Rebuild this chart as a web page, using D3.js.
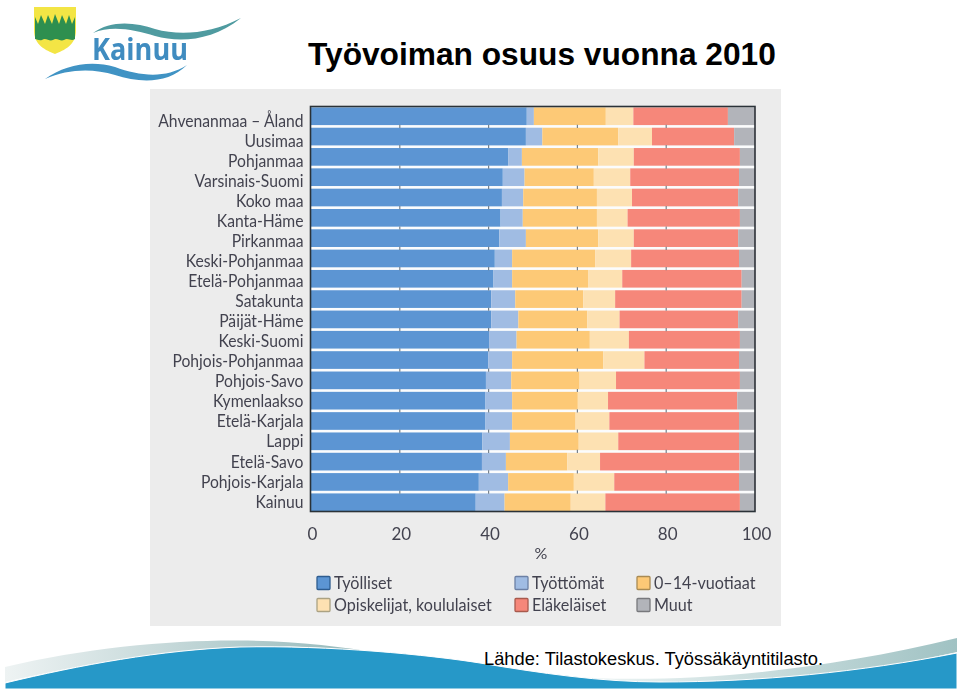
<!DOCTYPE html>
<html lang="fi">
<head>
<meta charset="utf-8">
<title>Työvoiman osuus vuonna 2010</title>
<script src="https://cdn.jsdelivr.net/npm/d3@7"></script>
<style>
  html, body { margin: 0; padding: 0; background: #fff; }
  svg { display: block; }
  .panelText { font-family: Lato, "Open Sans", sans-serif; fill: #43434f; }
</style>
</head>
<body>
<div id="chart"></div>
<script>
const alueet = ['Ahvenanmaa – Åland', 'Uusimaa', 'Pohjanmaa', 'Varsinais-Suomi', 'Koko maa', 'Kanta-Häme', 'Pirkanmaa',
  'Keski-Pohjanmaa', 'Etelä-Pohjanmaa', 'Satakunta', 'Päijät-Häme', 'Keski-Suomi', 'Pohjois-Pohjanmaa', 'Pohjois-Savo',
  'Kymenlaakso', 'Etelä-Karjala', 'Lappi', 'Etelä-Savo', 'Pohjois-Karjala', 'Kainuu'];

const tyolliset = [48.6, 48.4, 44.4, 43.2, 43.0, 42.7, 42.4, 41.4, 41.1, 40.6, 40.6, 40.1, 39.9, 39.4, 39.3, 39.3, 38.6, 38.5, 37.8, 37.1];
const tyottomat = [1.6, 3.7, 3.1, 4.9, 4.8, 5.0, 6.0, 3.9, 4.2, 5.4, 6.1, 6.2, 5.4, 5.7, 6.0, 6.0, 6.2, 5.4, 6.6, 6.5];
const lapset = [16.2, 17.1, 17.2, 15.6, 16.6, 16.7, 16.3, 18.7, 17.1, 15.3, 15.5, 16.5, 20.5, 15.4, 14.8, 14.3, 15.5, 13.8, 14.8, 14.9];
const opiskelijat = [6.2, 7.6, 8.0, 8.2, 7.9, 6.9, 8.0, 8.1, 7.7, 7.2, 7.3, 8.8, 9.3, 8.2, 6.8, 7.6, 8.9, 7.4, 9.1, 7.8];
const elakelaiset = [21.3, 18.5, 23.9, 24.5, 23.9, 25.3, 23.5, 24.3, 26.9, 28.5, 26.7, 25.0, 21.3, 27.9, 29.1, 29.2, 27.2, 31.4, 28.1, 30.3];
const muut = [6.1, 4.7, 3.4, 3.6, 3.8, 3.4, 3.8, 3.6, 3.0, 3.0, 3.8, 3.4, 3.6, 3.4, 4.0, 3.6, 3.6, 3.5, 3.6, 3.4];

const sarjat = [tyolliset, tyottomat, lapset, opiskelijat, elakelaiset, muut];
const sarjaNimet = ['Työlliset', 'Työttömät', '0–14-vuotiaat', 'Opiskelijat, koululaiset', 'Eläkeläiset', 'Muut'];
const varit = ['#5b95d3', '#a0bce3', '#fdc976', '#fde1b2', '#f6877a', '#b2b4ba'];
const reunat = ['#2d5c8f', '#6c80a5', '#a98a52', '#aba283', '#a85a4e', '#77787c'];
const tikit = [0, 20, 40, 60, 80, 100];

let w = 960;
let h = 691;

const svg = d3.select('#chart').append('svg')
  .attr('width', w)
  .attr('height', h);

const defs = svg.append('defs');
defs.append('filter').attr('id', 'pehmea')
  .attr('x', 0).attr('y', 0).attr('width', 1).attr('height', 1)
  .append('feGaussianBlur').attr('stdDeviation', 0.45);

const gv1 = defs.append('linearGradient').attr('id', 'aaltoV');
gv1.append('stop').attr('offset', 0).attr('stop-color', '#eef3f3');
gv1.append('stop').attr('offset', 1).attr('stop-color', '#8fb5b7');
const gv2 = defs.append('linearGradient').attr('id', 'aaltoO');
gv2.append('stop').attr('offset', 0).attr('stop-color', '#f4f9f9');
gv2.append('stop').attr('offset', 1).attr('stop-color', '#a0c2c3');

// otsikko
svg.append('text')
  .attr('x', 308).attr('y', 65)
  .attr('font-family', '"Liberation Sans", Arial, sans-serif')
  .attr('font-weight', 'bold')
  .attr('font-size', 31.7)
  .attr('fill', '#000')
  .text('Työvoiman osuus vuonna 2010');

// harmaa kuvapaneeli
const panel = svg.append('g').attr('filter', 'url(#pehmea)');
panel.append('rect')
  .attr('x', 150).attr('y', 89)
  .attr('width', 631).attr('height', 537)
  .attr('fill', '#ececec');

const plotL = 311, plotR = 755, plotT = 107, plotB = 511.5;

const x = d3.scaleLinear().domain([0, 100]).range([plotL, plotR]);
const y = d3.scaleBand().domain(alueet).range([plotT, plotB]).paddingInner(0.13).paddingOuter(0.02);
// nimet eivät ole aivan rivien kohdalla alkuperäisessä kuvassa
const yNimi = d3.scalePoint().domain(alueet).range([120.7, 501.7]);

// kaventaa tekstin alkuperäisen levyiseksi
function kavenna(sel, k) {
  sel.each(function () {
    const pit = this.getComputedTextLength();
    d3.select(this).attr('textLength', pit * k).attr('lengthAdjust', 'spacingAndGlyphs');
  });
}

panel.append('rect')
  .attr('x', plotL).attr('y', plotT)
  .attr('width', plotR - plotL).attr('height', plotB - plotT)
  .attr('fill', '#fbfcfd');

const stack = d3.stack().keys(d3.range(sarjat.length)).value((d, k) => sarjat[k][d]);
const pinot = stack(d3.range(alueet.length));

panel.selectAll('g.sarja')
  .data(pinot)
  .enter()
  .append('g')
  .attr('class', 'sarja')
  .attr('fill', (d, i) => varit[i])
  .selectAll('rect')
  .data(d => d)
  .enter()
  .append('rect')
  .attr('x', d => x(d[0]))
  .attr('y', d => y(alueet[d.data]))
  .attr('width', d => x(d[1]) - x(d[0]))
  .attr('height', y.bandwidth());

// pienet viivat rivien välissä
const valit = alueet.slice(1).map(a => y(a) - y.step() * y.paddingInner() / 2);
tikit.slice(1, 5).forEach(t => {
  panel.selectAll(null)
    .data(valit)
    .enter()
    .append('line')
    .attr('x1', x(t)).attr('x2', x(t))
    .attr('y1', d => d - 1.6).attr('y2', d => d + 1.6)
    .attr('stroke', '#77828c')
    .attr('stroke-width', 1.2);
});

// kehys
panel.append('rect')
  .attr('x', plotL - 0.5).attr('y', plotT - 0.5)
  .attr('width', plotR - plotL + 0.5).attr('height', plotB - plotT + 0.5)
  .attr('fill', 'none')
  .attr('stroke', '#2c3238')
  .attr('stroke-width', 1.6);

// alueiden nimet
panel.selectAll('text.alue')
  .data(alueet)
  .enter()
  .append('text')
  .attr('class', 'alue panelText')
  .attr('x', 303.5)
  .attr('y', d => yNimi(d))
  .attr('dy', '0.36em')
  .attr('text-anchor', 'end')
  .attr('font-size', 16.5)
  .text(d => d)
  .call(kavenna, 0.95);

// x-akseli
const xAxis = d3.axisBottom(x).tickValues(tikit).tickSize(0).tickPadding(0);
const xg = panel.append('g')
  .attr('transform', 'translate(1,' + 528 + ')')
  .call(xAxis);
xg.select('.domain').remove();
xg.selectAll('text')
  .attr('class', 'panelText')
  .attr('font-family', null)
  .attr('font-size', 17);

panel.append('text')
  .attr('class', 'panelText')
  .attr('x', 541).attr('y', 559)
  .attr('text-anchor', 'middle')
  .attr('font-size', 16)
  .text('%');

// selite
const seliteX = d3.scaleOrdinal().domain([0, 1, 2]).range([317, 515, 637]);
const seliteY = d3.scalePoint().domain([0, 1]).range([583, 605]);
const selite = panel.selectAll('g.selite')
  .data(sarjaNimet)
  .enter()
  .append('g')
  .attr('class', 'selite')
  .attr('transform', (d, i) => 'translate(' + seliteX(i % 3) + ',' + seliteY(Math.floor(i / 3)) + ')');
selite.append('rect')
  .attr('x', 0).attr('y', -6.5)
  .attr('width', 13).attr('height', 13)
  .attr('rx', 1)
  .attr('fill', (d, i) => varit[i])
  .attr('stroke', (d, i) => reunat[i])
  .attr('stroke-width', 1.3);
selite.append('text')
  .attr('class', 'panelText')
  .attr('x', 17)
  .attr('dy', '0.33em')
  .attr('font-size', 17)
  .text(d => d)
  .call(kavenna, 0.95);

// Kainuun logo
const logo = svg.append('g').attr('filter', 'url(#pehmea)');
logo.append('path')
  .attr('d', 'M34,7 H76 V30 C76,46 64,50 55,54 C46,50 34,46 34,30 Z')
  .attr('fill', '#f3e545');
logo.append('path')
  .attr('d', 'M35,17 L38,24 L41,15 L45,24 L48,15 L52,24 L55,14 L59,24 L62,15 L66,24 L69,15 L72,24 L75,17 V39 C71,42 68,37 64,40 C60,42 57,37 53,40 C49,42 46,37 42,40 C39,41 37,39 35,39 Z')
  .attr('fill', '#2f8f50');
logo.append('path')
  .attr('d', 'M93,33 C110,20 135,22 155,29 C180,36 210,34 241,18 C212,41 180,43 155,36 C135,30 112,25 93,33 Z')
  .attr('fill', '#4f9ba0');
logo.append('path')
  .attr('d', 'M45,79 C65,65 90,60 115,67 C140,76 165,79 187,65 C168,84 140,83 115,75 C92,68 68,69 45,79 Z')
  .attr('fill', '#3f93c4');
logo.append('text')
  .attr('x', 92).attr('y', 60)
  .attr('font-family', '"Open Sans", sans-serif')
  .attr('font-weight', 'bold')
  .attr('font-size', 31)
  .attr('textLength', 96)
  .attr('lengthAdjust', 'spacingAndGlyphs')
  .attr('fill', '#3f8cc0')
  .text('Kainuu');

// alareunan aalto
const aalto = svg.append('g');
aalto.append('path')
  .attr('d', 'M5,667 C85,648 170,640 240,640.5 C290,641 340,646 385,654 C320,646 280,646 240,647 C160,650 80,665 5,682 Z')
  .attr('fill', 'url(#aaltoV)');
aalto.append('path')
  .attr('d', 'M560,676 C660,684 800,676 957,638 V652 C810,685 680,690 560,676 Z')
  .attr('fill', 'url(#aaltoO)');
aalto.append('path')
  .attr('d', 'M5,683 C80,665 160,650 240,647 C330,645 430,655 480,663 C540,673 600,682 660,682 C760,682 860,672 957,653 V689 H5 Z')
  .attr('fill', '#2698c8')
  .attr('stroke', '#fff')
  .attr('stroke-width', 1);

// lähde
svg.append('text')
  .attr('x', 484).attr('y', 665)
  .attr('font-family', '"Liberation Sans", Arial, sans-serif')
  .attr('font-size', 18.3)
  .attr('fill', '#000')
  .text('Lähde: Tilastokeskus. Työssäkäyntitilasto.');
</script>
</body>
</html>
